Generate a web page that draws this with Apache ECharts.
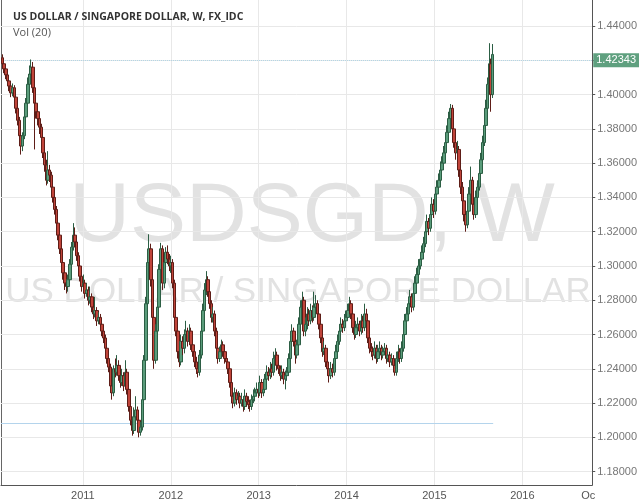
<!DOCTYPE html>
<html><head><meta charset="utf-8">
<script src="https://cdn.jsdelivr.net/npm/echarts@6/dist/echarts.min.js"></script>
<style>html,body{margin:0;padding:0;background:#fff}#c{width:640px;height:504px}</style>
</head><body><div id="c"></div>
<script>
// Weekly candles starting Monday 2010-02-01
const startWeek = '2010-02-01';
const firstOpen = 1.4215;
const closes = [
1.4180,1.4150,1.4115,1.4080,1.4050,1.4010,1.4040,1.3985,1.3920,1.3850,
1.3760,1.3700,1.3760,1.3870,1.3950,1.4060,1.4120,1.4160,1.4040,1.3950,
1.3900,1.3860,1.3810,1.3750,1.3660,1.3590,1.3500,1.3560,1.3530,1.3460,
1.3400,1.3330,1.3250,1.3180,1.3100,1.3020,1.2960,1.2900,1.2880,1.2920,
1.3010,1.3110,1.3180,1.3140,1.3060,1.3000,1.2940,1.2880,1.2900,1.2840,
1.2860,1.2800,1.2820,1.2760,1.2720,1.2740,1.2680,1.2700,1.2660,1.2620,
1.2580,1.2520,1.2460,1.2410,1.2300,1.2260,1.2400,1.2380,1.2420,1.2360,
1.2320,1.2360,1.2300,1.2380,1.2280,1.2180,1.2100,1.2040,1.2120,1.2160,
1.2100,1.2030,1.2060,1.2220,1.2450,1.2780,1.3020,1.3100,1.2920,1.2700,
1.2450,1.2620,1.2760,1.2980,1.3100,1.2900,1.3020,1.3080,1.3040,1.3000,
1.3020,1.2900,1.2700,1.2620,1.2500,1.2440,1.2560,1.2520,1.2600,1.2620,
1.2560,1.2620,1.2540,1.2500,1.2440,1.2400,1.2380,1.2480,1.2620,1.2740,
1.2860,1.2920,1.2850,1.2780,1.2700,1.2720,1.2620,1.2520,1.2460,1.2500,
1.2540,1.2500,1.2460,1.2440,1.2400,1.2320,1.2240,1.2200,1.2260,1.2220,
1.2240,1.2200,1.2220,1.2180,1.2240,1.2210,1.2190,1.2180,1.2220,1.2240,
1.2260,1.2280,1.2260,1.2320,1.2260,1.2280,1.2340,1.2380,1.2360,1.2400,
1.2380,1.2460,1.2480,1.2420,1.2400,1.2360,1.2380,1.2340,1.2360,1.2380,
1.2460,1.2560,1.2620,1.2560,1.2480,1.2540,1.2660,1.2760,1.2800,1.2620,
1.2660,1.2720,1.2680,1.2740,1.2700,1.2760,1.2780,1.2720,1.2660,1.2580,
1.2500,1.2520,1.2440,1.2400,1.2360,1.2400,1.2380,1.2460,1.2500,1.2560,
1.2620,1.2660,1.2640,1.2680,1.2700,1.2740,1.2780,1.2720,1.2640,1.2600,
1.2640,1.2660,1.2620,1.2680,1.2640,1.2720,1.2680,1.2580,1.2520,1.2500,
1.2480,1.2520,1.2460,1.2500,1.2520,1.2480,1.2500,1.2520,1.2460,1.2480,
1.2440,1.2460,1.2420,1.2380,1.2460,1.2500,1.2460,1.2520,1.2600,1.2680,
1.2720,1.2780,1.2820,1.2760,1.2840,1.2900,1.2950,1.3000,1.3040,1.3080,
1.3130,1.3200,1.3260,1.3220,1.3300,1.3360,1.3320,1.3420,1.3460,1.3500,
1.3560,1.3600,1.3660,1.3720,1.3780,1.3860,1.3920,1.3800,1.3720,1.3660,
1.3680,1.3560,1.3460,1.3380,1.3300,1.3240,1.3320,1.3420,1.3500,1.3360,
1.3300,1.3400,1.3460,1.3540,1.3620,1.3720,1.3820,1.3920,1.4060,1.4180,
1.4000,1.42343];
const highs = [
1.4235,1.4205,1.417,1.4135,1.411,1.4075,1.4065,1.4055,1.400,1.394,
1.387,1.378,1.378,1.390,1.398,1.410,1.417,1.4205,1.419,1.407,
1.398,1.393,1.389,1.383,1.377,1.368,1.362,1.367,1.359,1.355,
1.348,1.342,1.335,1.327,1.320,1.312,1.304,1.298,1.293,1.295,
1.304,1.314,1.325,1.3225,1.316,1.308,1.302,1.296,1.295,1.292,
1.290,1.288,1.288,1.284,1.278,1.282,1.276,1.273,1.272,1.268,
1.264,1.260,1.254,1.248,1.243,1.233,1.242,1.246,1.248,1.245,
1.238,1.240,1.238,1.245,1.240,1.230,1.220,1.212,1.2175,1.224,
1.218,1.212,1.209,1.225,1.248,1.282,1.306,1.3185,1.313,1.295,
1.272,1.266,1.280,1.301,1.3135,1.312,1.305,1.311,1.312,1.307,
1.306,1.304,1.292,1.273,1.264,1.253,1.260,1.259,1.263,1.268,
1.264,1.266,1.264,1.257,1.252,1.247,1.243,1.251,1.266,1.278,
1.290,1.297,1.294,1.287,1.280,1.276,1.274,1.264,1.254,1.253,
1.257,1.256,1.252,1.249,1.246,1.242,1.234,1.226,1.229,1.228,
1.227,1.226,1.226,1.224,1.228,1.226,1.224,1.222,1.225,1.228,
1.229,1.232,1.231,1.236,1.234,1.232,1.237,1.242,1.241,1.244,
1.243,1.250,1.252,1.250,1.245,1.242,1.242,1.240,1.239,1.241,
1.249,1.259,1.266,1.264,1.258,1.257,1.270,1.280,1.285,1.282,
1.270,1.276,1.275,1.278,1.277,1.285,1.283,1.280,1.274,1.268,
1.260,1.256,1.254,1.246,1.242,1.244,1.243,1.249,1.254,1.260,
1.266,1.270,1.269,1.272,1.274,1.278,1.282,1.280,1.274,1.266,
1.268,1.270,1.268,1.272,1.271,1.278,1.275,1.270,1.260,1.255,
1.253,1.256,1.254,1.254,1.256,1.254,1.253,1.255,1.254,1.251,
1.250,1.249,1.248,1.244,1.250,1.254,1.252,1.256,1.263,1.272,
1.276,1.282,1.286,1.284,1.288,1.294,1.299,1.304,1.308,1.312,
1.317,1.324,1.330,1.328,1.334,1.340,1.339,1.346,1.350,1.354,
1.361,1.364,1.370,1.376,1.382,1.390,1.3945,1.394,1.383,1.376,
1.373,1.370,1.358,1.349,1.340,1.333,1.336,1.346,1.358,1.352,
1.339,1.344,1.350,1.358,1.366,1.376,1.386,1.397,1.410,1.430,
1.421,1.4295];
const lows = [
1.4165,1.4125,1.409,1.405,1.402,1.3985,1.399,1.396,1.389,1.382,
1.373,1.365,1.367,1.374,1.384,1.393,1.403,1.409,1.401,1.368,
1.386,1.382,1.377,1.371,1.363,1.355,1.347,1.348,1.349,1.343,
1.337,1.330,1.322,1.315,1.307,1.299,1.292,1.286,1.284,1.285,
1.290,1.299,1.309,1.311,1.303,1.297,1.291,1.285,1.286,1.281,
1.282,1.277,1.278,1.273,1.269,1.270,1.265,1.266,1.263,1.259,
1.255,1.249,1.243,1.238,1.226,1.222,1.224,1.235,1.236,1.233,
1.229,1.230,1.227,1.228,1.225,1.215,1.207,1.201,1.202,1.209,
1.206,1.200,1.201,1.204,1.220,1.243,1.275,1.298,1.288,1.266,
1.240,1.243,1.259,1.273,1.295,1.286,1.287,1.299,1.301,1.297,
1.296,1.287,1.267,1.259,1.246,1.241,1.242,1.248,1.249,1.257,
1.253,1.254,1.251,1.247,1.241,1.237,1.235,1.236,1.246,1.260,
1.272,1.283,1.282,1.275,1.267,1.267,1.259,1.249,1.243,1.244,
1.248,1.247,1.243,1.241,1.237,1.229,1.221,1.217,1.218,1.219,
1.220,1.217,1.218,1.215,1.216,1.218,1.2165,1.215,1.216,1.220,
1.221,1.224,1.223,1.224,1.223,1.224,1.226,1.232,1.233,1.234,
1.235,1.236,1.244,1.239,1.237,1.233,1.234,1.231,1.228,1.233,
1.236,1.244,1.254,1.253,1.243,1.246,1.252,1.264,1.274,1.259,
1.259,1.263,1.265,1.266,1.267,1.268,1.273,1.269,1.263,1.255,
1.247,1.248,1.241,1.236,1.232,1.234,1.235,1.236,1.244,1.248,
1.254,1.260,1.261,1.262,1.265,1.268,1.272,1.269,1.261,1.257,
1.258,1.261,1.259,1.260,1.261,1.262,1.265,1.255,1.249,1.247,
1.245,1.246,1.243,1.244,1.248,1.245,1.246,1.248,1.243,1.244,
1.241,1.242,1.239,1.236,1.236,1.244,1.243,1.244,1.250,1.258,
1.266,1.270,1.276,1.273,1.274,1.282,1.288,1.293,1.298,1.302,
1.306,1.311,1.318,1.318,1.320,1.328,1.328,1.330,1.340,1.343,
1.348,1.353,1.358,1.364,1.370,1.376,1.383,1.377,1.369,1.362,
1.363,1.352,1.342,1.334,1.326,1.320,1.322,1.330,1.340,1.333,
1.327,1.328,1.338,1.344,1.352,1.360,1.370,1.380,1.390,1.404,
1.390,1.398];
const yTicks = [1.18,1.20,1.22,1.24,1.26,1.28,1.30,1.32,1.34,1.36,1.38,1.40,1.42,1.44];
const xYears = [2011,2012,2013,2014,2015,2016];
const xLabelValues = [2011,2012,2013,2014,2015,2016,2016.75];
const xLabelTexts = ['2011','2012','2013','2014','2015','2016','Oc'];
const lastPrice = 1.42343;
const lowLine = 1.208;
const titleText = 'US DOLLAR / SINGAPORE DOLLAR, W, FX_IDC';
const subTitle = 'Vol (20)';
const watermark1 = 'USDSGD, W';
const watermark2 = 'US DOLLAR / SINGAPORE DOLLAR';

const xMin = 2010.068, xMax = 2016.795;
const yMin = 1.1722, yMax = 1.4552;

function yearFrac(ms){
  const d = new Date(ms); const y = d.getUTCFullYear();
  const a = Date.UTC(y,0,1), b = Date.UTC(y+1,0,1);
  return y + (ms - a)/(b - a);
}
const t0 = Date.parse(startWeek + 'T00:00:00Z');
const xs = closes.map((c,i)=>yearFrac(t0 + i*7*86400000));
const data = closes.map((c,i)=>[xs[i], i ? closes[i-1] : firstOpen, c, lows[i], highs[i]]);

const chart = echarts.init(document.getElementById('c'), null, {renderer:'canvas'});
chart.setOption({
  animation:false,
  backgroundColor:'#ffffff',
  title:{text:titleText, left:8, top:7, itemGap:4,
    textStyle:{fontFamily:'Open Sans', fontWeight:'bold', fontSize:10.5, color:'#333'},
    subtext:subTitle,
    subtextStyle:{fontFamily:'Open Sans', fontSize:11, color:'#555'}},
  grid:{left:1, right:47, top:0, bottom:19, containLabel:false},
  graphic:[
    {type:'text', x:312, y:218, z:-10, silent:true,
     style:{text:watermark1, font:'84px "Liberation Sans"', fill:'#e2e2e2', align:'center', verticalAlign:'middle'}},
    {type:'text', x:298, y:292, z:-10, silent:true,
     style:{text:watermark2, font:'35px "Liberation Sans"', fill:'#e2e2e2', align:'center', verticalAlign:'middle'}},
    {type:'line', silent:true, shape:{x1:1.5, y1:0, x2:1.5, y2:485}, style:{stroke:'#666', lineWidth:1}}
  ],
  xAxis:{type:'value', min:xMin, max:xMax,
    axisLine:{show:true, lineStyle:{color:'#555'}},
    axisTick:{show:false, customValues:xYears},
    axisLabel:{customValues:xLabelValues, color:'#555', fontSize:11, margin:5, fontFamily:'Liberation Sans',
      formatter:v=>{const k=xLabelValues.findIndex(u=>Math.abs(u-v)<1e-6); return k>=0?xLabelTexts[k]:'';}},
    splitLine:{show:true, lineStyle:{color:'#e8e8e8'}}},
  yAxis:{type:'value', position:'right', min:yMin, max:yMax,
    axisLine:{show:true, lineStyle:{color:'#555'}},
    axisTick:{show:true, length:3, customValues:yTicks, lineStyle:{color:'#555'}},
    axisLabel:{customValues:yTicks, color:'#777', fontSize:11, margin:5, fontFamily:'Liberation Sans',
      formatter:v=>v.toFixed(5)},
    splitLine:{show:true, lineStyle:{color:'#e8e8e8'}}},
  series:[{
    type:'candlestick',
    dimensions:['t','open','close','lowest','highest'],
    encode:{x:0, y:[1,2,3,4]},
    data:data,
    barWidth:3,
    z:5,
    itemStyle:{color:'#5a9c7b', color0:'#c0443a', borderColor:'#2c5e44', borderColor0:'#5e1d17', borderWidth:1},
    markLine:{
      symbol:['none','none'], silent:true, animation:false,
      data:[
        {yAxis:lastPrice, lineStyle:{color:'#b2d6e6', type:'dotted', width:1},
         label:{show:true, position:'end', distance:1, formatter:lastPrice.toFixed(5), color:'#fff',
           backgroundColor:'#5fa07f', padding:[2,3,1,3], fontSize:11, fontFamily:'Liberation Sans'}},
        [{coord:[xMin, lowLine], lineStyle:{color:'#b4d4ec', type:'solid', width:1}, label:{show:false}},
         {coord:[xs[xs.length-1] + 0.005, lowLine]}]
      ]
    }
  }]
});
</script></body></html>
